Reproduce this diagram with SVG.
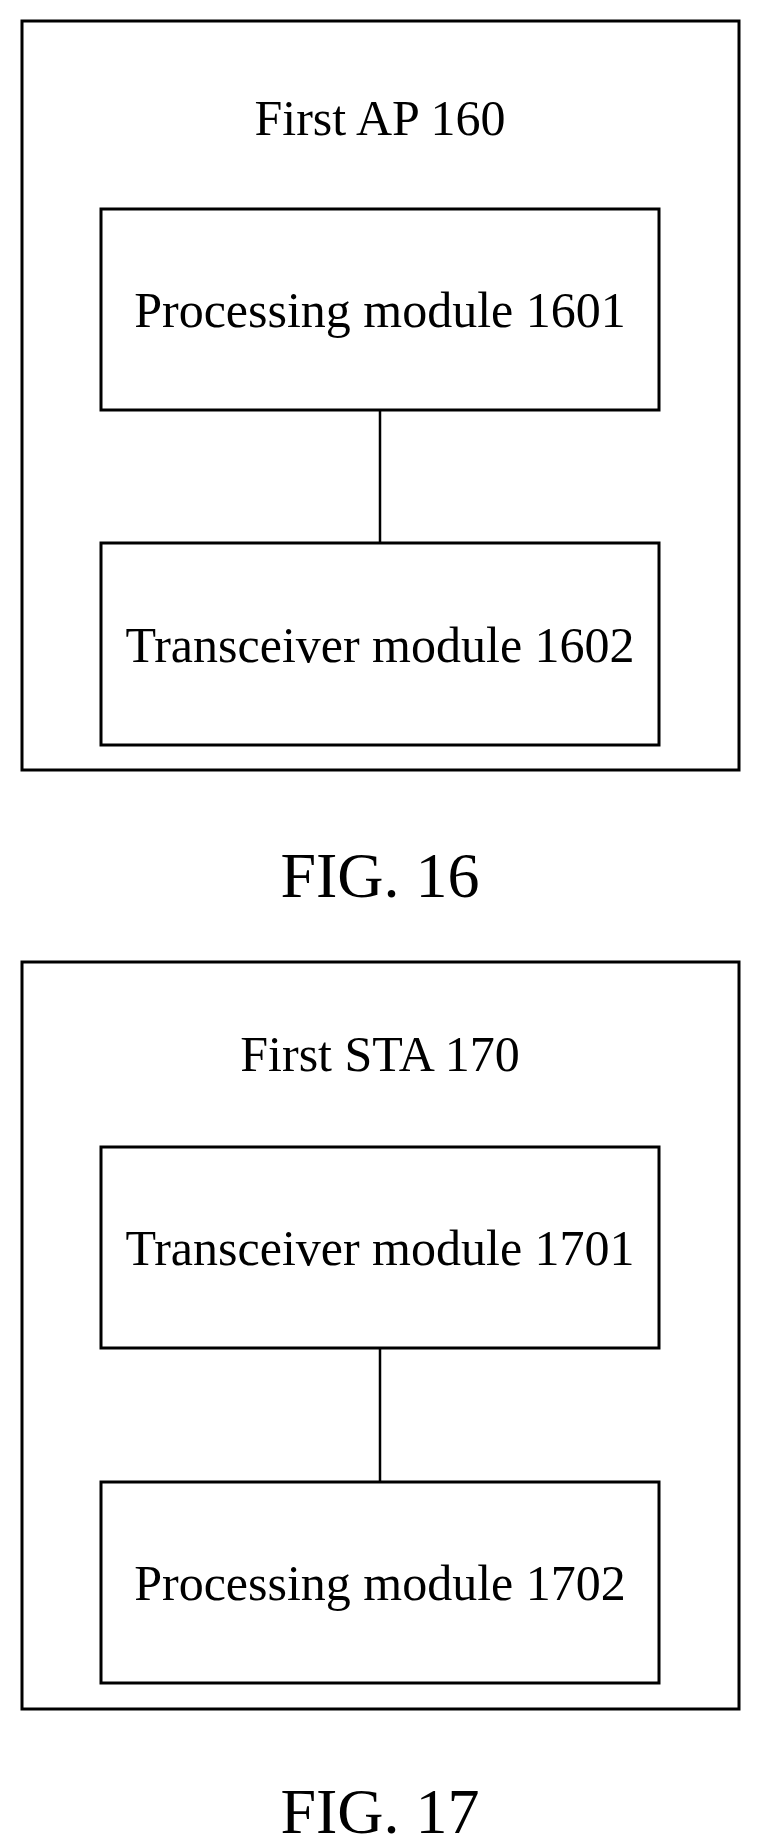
<svg xmlns="http://www.w3.org/2000/svg" width="757" height="1846" viewBox="0 0 757 1846">
<style>
rect{fill:#fff;stroke:#000;stroke-width:3}
line{stroke:#000;stroke-width:2.5}
text{font-family:"Liberation Serif",serif;text-anchor:middle;fill:#000}
.t{font-size:50px}
.f{font-size:64px}
</style>
<rect x="0" y="0" width="757" height="1846" style="stroke:none"/>
<g id="fig16">
<rect x="22" y="21" width="717" height="749"/>
<text class="t" x="380" y="135">First AP 160</text>
</g>
<g id="n1601"><rect x="101" y="209" width="558" height="201"/><text class="t" x="380" y="327">Processing module 1601</text></g>
<g id="n1602"><rect x="101" y="543" width="558" height="202"/><text class="t" x="380" y="662">Transceiver module 1602</text></g>
<text class="f" x="380" y="897">FIG. 16</text>
<g id="fig17">
<rect x="22" y="962" width="717" height="747"/>
<text class="t" x="380" y="1071">First STA 170</text>
</g>
<g id="n1701"><rect x="101" y="1147" width="558" height="201"/><text class="t" x="380" y="1265">Transceiver module 1701</text></g>
<g id="n1702"><rect x="101" y="1482" width="558" height="201"/><text class="t" x="380" y="1600">Processing module 1702</text></g>
<text class="f" x="380" y="1833">FIG. 17</text>
<g id="connectors">
<line x1="380" y1="410" x2="380" y2="543"/>
<line x1="380" y1="1348" x2="380" y2="1482"/>
</g>
</svg>
